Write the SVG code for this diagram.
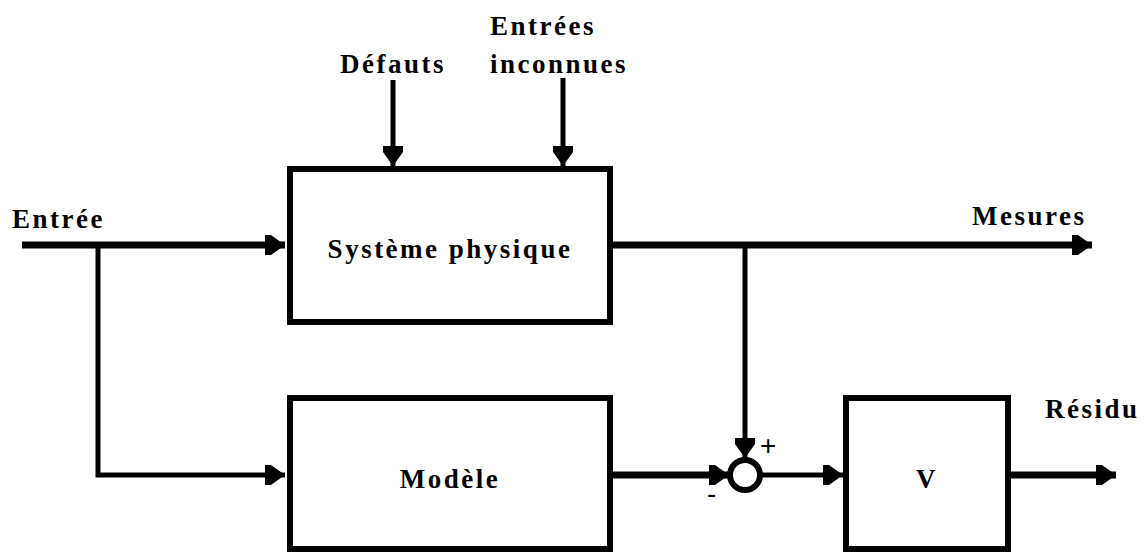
<svg xmlns="http://www.w3.org/2000/svg" width="1146" height="554" viewBox="0 0 1146 554">
<style>
.box{fill:#fff;stroke:#000;stroke-width:6}
.lbl{font-family:"Liberation Serif","Times New Roman",serif;font-weight:bold;font-size:27px;letter-spacing:2.5px;fill:#000}
.c{stroke:#000;fill:none;stroke-width:7}
.t{stroke:#000;fill:none;stroke-width:5}
.sign{font-family:"Liberation Sans",Arial,sans-serif;font-size:28px;fill:#000}
</style>
<defs>
<marker id="ah" viewBox="0 -10 20 20" refX="20" refY="0" markerWidth="20" markerHeight="20" markerUnits="userSpaceOnUse" orient="auto">
<path d="M0,-10 L6,-10 L20,0 L6,10 L0,10 z" fill="#000"/>
</marker>
</defs>
<g id="connectors">
<path class="c" d="M22,245 H285" marker-end="url(#ah)"/>
<path class="t" d="M98,245 V475 H285" marker-end="url(#ah)"/>
<path class="t" d="M393,80 V166" marker-end="url(#ah)"/>
<path class="t" d="M563,78 V166" marker-end="url(#ah)"/>
<path class="c" d="M612,245 H1092" marker-end="url(#ah)"/>
<path class="t" d="M745,245 V458" marker-end="url(#ah)"/>
<path class="c" d="M612,475 H729" marker-end="url(#ah)"/>
<path class="t" d="M761,475 H843" marker-end="url(#ah)"/>
<path class="c" d="M1010,475 H1116" marker-end="url(#ah)"/>
</g>
<g id="systeme">
<rect class="box" x="290" y="169" width="320" height="153"/>
<text class="lbl" x="450" y="258" text-anchor="middle">Système physique</text>
</g>
<g id="modele">
<rect class="box" x="290" y="398" width="320" height="151"/>
<text class="lbl" x="450" y="488" text-anchor="middle">Modèle</text>
</g>
<g id="sommateur">
<circle cx="745" cy="475" r="15" fill="#fff" stroke="#000" stroke-width="6"/>
<text class="sign" x="760" y="455">+</text>
<text class="sign" x="707" y="503">-</text>
</g>
<g id="v">
<rect class="box" x="846" y="398" width="162" height="151"/>
<text class="lbl" x="927" y="488" text-anchor="middle">V</text>
</g>
<g id="labels">
<text class="lbl" x="12" y="228">Entrée</text>
<text class="lbl" x="340" y="73">Défauts</text>
<text class="lbl" x="490" y="35">Entrées</text>
<text class="lbl" x="490" y="73">inconnues</text>
<text class="lbl" x="972" y="225">Mesures</text>
<text class="lbl" x="1045" y="418">Résidu</text>
</g>
</svg>
